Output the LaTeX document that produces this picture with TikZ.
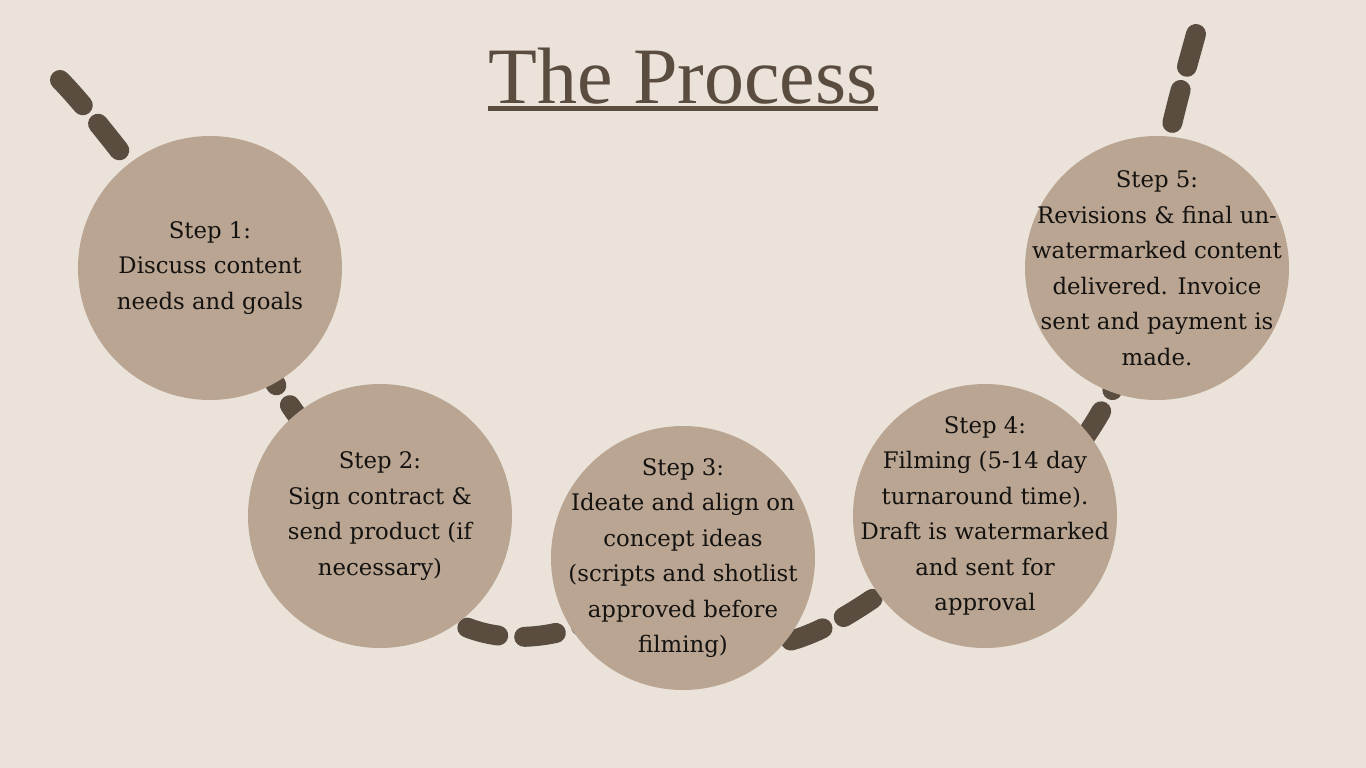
\documentclass[tikz,border=0pt]{standalone}
\usepackage{fontspec}
\setmainfont{DejaVu Serif}
\newfontfamily\titlefont{Liberation Serif}
\usetikzlibrary{calc,backgrounds}
\definecolor{paper}{HTML}{EBE3DA}
\definecolor{stepfill}{HTML}{B9A591}
\definecolor{trackbrown}{HTML}{5A4D40}
\definecolor{inkblack}{HTML}{141210}

\begin{document}
\begin{tikzpicture}[x=1pt,y=-1pt,
  stepcircle/.style={circle,fill=stepfill,minimum size=264pt,inner sep=0pt},
  steptext/.style={align=center,text=inkblack,font=\fontsize{22.8}{35.5}\selectfont},
  track/.style={line width=20pt,draw=trackbrown,line cap=round,dash pattern=on 34pt off 24pt},
  trackend/.style={track,dash pattern=on 34pt off 24pt on 34pt off 400pt}]
  \useasboundingbox (0,0) rectangle (1366,768);
  % title
  \node[inner sep=0pt,anchor=base,text=trackbrown,font=\titlefont\fontsize{80}{90}\selectfont] (title) at (683,103) {The Process};
  \draw[trackbrown,line width=5pt] ($(title.south west)+(0,5)$) -- ($(title.south east)+(0,5)$);
  % steps
  \node[stepcircle] (step1) at (210,268) {};
  \node[stepcircle] (step2) at (380,516) {};
  \node[stepcircle] (step3) at (683,558) {};
  \node[stepcircle] (step4) at (985,516) {};
  \node[stepcircle] (step5) at (1157,268) {};
  \node[steptext] (step1text) at (step1) {Step 1:\\Discuss content\\needs and goals};
  \node[steptext] (step2text) at (step2) {Step 2:\\Sign contract \&\\send product (if\\necessary)};
  \node[steptext] (step3text) at (step3) {Step 3:\\Ideate and align on\\concept ideas\\(scripts and shotlist\\approved before\\filming)};
  \node[steptext] (step4text) at (step4) {Step 4:\\Filming (5-14 day\\turnaround time).\\Draft is watermarked\\and sent for\\approval};
  \node[steptext] (step5text) at (step5) {Step 5:\\Revisions \& final un-\\watermarked content\\delivered. Invoice\\sent and payment is\\made.};
  \coordinate (trackstart) at (60,80);
  \coordinate (trackstop) at (1196,34);
  % dashed track behind the steps
  \begin{scope}[on background layer]
    \fill[paper] (0,0) rectangle (1366,768);
    \draw[trackend] (trackstart) .. controls (90,110) and (150,190) .. (step1.center);
    \draw[track,dash phase=15pt] (step1.center) .. controls (240,340) and (330,470) .. (step2.center);
    \draw[track,dash pattern=on 32pt off 26pt,dash phase=26.4pt] (step2.center) .. controls (420,680) and (590,660) .. (step3.center);
    \draw[track,dash phase=18pt] (step3.center) .. controls (730,740) and (880,590) .. (step4.center);
    \draw[track,dash phase=48pt] (step4.center) .. controls (1090,480) and (1130,360) .. (step5.center);
    \draw[trackend] (trackstop) .. controls (1178,100) and (1150,190) .. (step5.center);
  \end{scope}
\end{tikzpicture}
\end{document}
